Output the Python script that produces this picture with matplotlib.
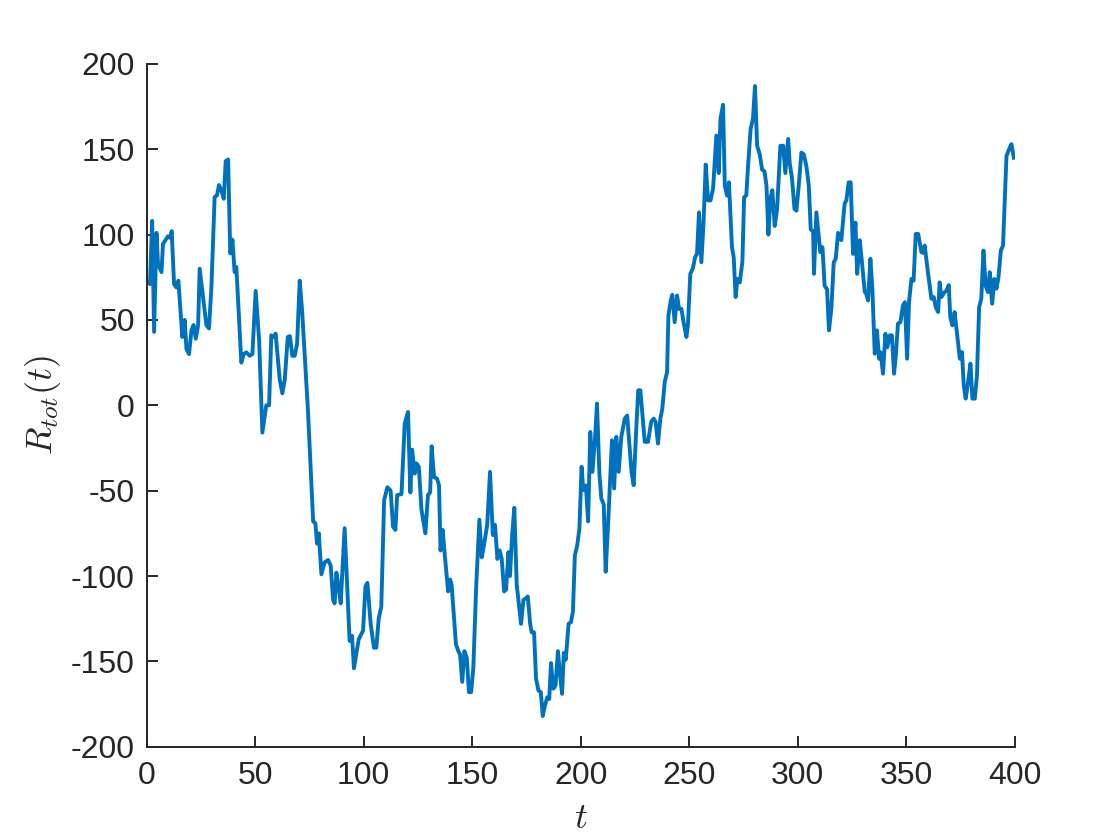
import matplotlib
matplotlib.use("Agg")
import matplotlib.pyplot as plt

t = [1, 1.5, 2.5, 3.4, 4.5, 5.2, 6.8, 7.5, 9.8, 10.9, 11.5, 12.6, 13.7, 14.6, 16.4, 17.5,
     18.3, 19.5, 20.6, 21.6, 22.6, 23.7, 24.4, 26, 27.5, 28.7, 29.8, 31.3, 32.4, 33.3,
     34.4, 35.5, 36.4, 37.5, 38.5, 39.5, 40.5, 41.3, 43.6, 44.7, 45.9, 47.5, 48.7, 50.2,
     51.8, 53.3, 55.1, 56.4, 57.4, 58.5, 59.4, 61.3, 62.5, 63.6, 65, 66, 67.1, 68.2, 69.3,
     70.5, 71.6, 74.3, 76.7, 77.7, 78.5, 79.3, 80.5, 82, 83.6, 84.8, 85.9, 86.6, 87.4,
     88.2, 89.4, 91.2, 93.5, 94.6, 95.5, 97.7, 99.7, 100.8, 101.7, 103.2, 104.7, 105.8,
     106.9, 108.1, 109.4, 110.9, 112.4, 113.5, 114.6, 115.4, 117.4, 118.9, 120.4, 121.5,
     122.3, 123.5, 124.3, 125.4, 126.6, 128.4, 129.6, 130.6, 131.3, 132.4, 133.8, 134.7,
     135.4, 136.4, 137.3, 138.9, 139.8, 140.5, 141.3, 142.5, 143.6, 144.4, 145.4, 146.4,
     147.5, 148.5, 149.5, 150.5, 151.8, 153.3, 154.4, 155.4, 156.9, 158.2, 159.5, 160.5,
     161.6, 162.6, 163.6, 164.7, 165.6, 166.7, 167.4, 168.4, 169.4, 170.5, 171.7, 172.5,
     173.6, 174.8, 175.6, 176.7, 177.4, 178.5, 179.4, 180.5, 181.6, 182.5, 183.5, 184.6,
     185.5, 186.3, 187.4, 188.4, 189.5, 190.4, 191.4, 192.2, 193.1, 194.4, 195.5, 196.4,
     197.3, 198.4, 199.4, 200.4, 201.2, 202.4, 203.4, 204.4, 205.4, 206.6, 207.5, 208.6,
     209.5, 210.6, 211.5, 212.6, 214.4, 215.4, 216.4, 217.5, 218.7, 220.3, 221.4, 223.4,
     224.4, 225.6, 226.5, 227.5, 229.5, 231, 232.5, 233.6, 234.5, 235.6, 236.7, 237.6,
     238.7, 239.8, 240.4, 241.5, 242.2, 243.3, 244.4, 245.3, 246.4, 247.4, 248.7, 249.4,
     250.5, 251.7, 252.7, 253.6, 254.5, 255.6, 256.6, 257.6, 258.7, 259.8, 261, 262.5,
     263.6, 264.4, 265.6, 266.4, 267.4, 268.3, 269.7, 270.5, 271.4, 272.2, 273.3, 274.5,
     275.3, 276.3, 277.1, 278.3, 279.4, 280.3, 281.3, 282.5, 283.6, 284.7, 285.6, 286.5,
     287.4, 288.3, 289.4, 290.5, 292, 293.3, 294.3, 295.6, 296.3, 297.4, 298.5, 299.4,
     300.6, 301.7, 302.8, 304, 305.1, 306, 307.1, 307.5, 308.6, 309.7, 310.4, 311.4,
     312.4, 313.5, 314.4, 315.5, 316.6, 317.5, 318.6, 320.1, 321.6, 322.4, 323.5, 324.4,
     325.5, 326.6, 327.4, 328.6, 329.6, 330.9, 331.6, 332.4, 333.5, 334.4, 335.5, 336.5,
     337.5, 338.2, 339.3, 340.4, 341.3, 342.4, 343.4, 344.4, 345.2, 346.2, 347.3, 348.5,
     349.4, 350.4, 351.3, 352.4, 353.4, 354.4, 355.5, 357, 357.7, 358.5, 360, 361.6,
     362.7, 363.6, 364.7, 365.4, 366.2, 367.7, 368.5, 369.6, 370.3, 371.3, 372.3, 374.7,
     375.7, 376.5, 377.4, 378.5, 379.6, 380.5, 381.6, 382.6, 383.6, 384.6, 385.6, 386.6,
     387.7, 388.5, 389.6, 390.6, 391.6, 392.5, 393.6, 394.6, 396.2, 397.4, 398.5, 399.6]

r_tot = [72, 71, 108, 43, 101, 83, 78, 94.5, 99, 98, 102, 71, 69, 73, 40, 50,
         33, 30, 44, 47, 39, 47, 80, 63, 47, 45, 69, 122, 123, 129,
         126, 121, 143, 144, 89, 97, 78, 81, 25, 30, 31, 29, 30, 67,
         38, -16, 0, 0, 41, 40, 42, 15, 7, 15, 40, 40.5, 29, 29, 36,
         73, 55.6, -3, -68, -69, -81, -75, -99, -92, -90.6, -94, -114, -116, -98,
         -104, -116, -72, -138, -135, -154, -137, -132, -106, -104, -128, -142, -142,
         -125, -118, -55.6, -48, -50, -71, -73, -52.6, -52, -10.7, -3.9, -51,
         -26, -40, -34, -36, -61, -75, -52.6, -51, -24, -42, -43, -47,
         -85, -73, -87, -109, -102, -105, -119, -140, -144, -146, -162, -144,
         -148, -168, -168, -154, -107, -67, -89, -82, -70, -39, -76, -70,
         -90, -85, -90, -109, -108, -86, -100, -76, -60, -105, -119, -128,
         -114, -113, -112, -128, -133, -133, -160, -167, -168, -182, -176, -171,
         -172, -151, -166, -164, -144, -157, -169, -145, -149, -128, -127, -121,
         -88, -82, -72, -36, -49.7, -47, -68, -15.6, -39, -19, 1, -40,
         -54.6, -58, -97.5, -70, -20.5, -48.7, -18.5, -39, -18.5, -7.8, -6, -39,
         -46.8, -13.6, 8.8, 8.8, -21.4, -21.4, -9.6, -7.8, -9.6, -22.4, -7.8, -2,
         13.6, 19.5, 52.6, 61.4, 64.7, 48.7, 64.3, 56.5, 56.5, 48.7, 40, 46.8,
         77, 80.3, 86.7, 88.7, 113, 83.8, 107, 141, 120, 120, 127, 158,
         136, 168, 176, 128.7, 122.8, 130.6, 92.6, 86.7, 63.4, 74, 72, 84,
         121.8, 123, 140, 161.8, 168, 187, 152, 147, 138, 137, 128.7, 100,
         121, 126, 105, 115, 152, 152, 136, 156, 142, 132.6, 115, 114,
         130.6, 148, 147, 140, 128.7, 103, 102, 77, 113, 99, 89.7, 92.6,
         70, 68, 43.9, 56.5, 83.8, 85.7, 101, 96.7, 118, 120, 130.6, 130.6,
         88.7, 107, 77, 96.7, 83.8, 66.3, 65.3, 61.4, 85.8, 68, 30.2, 43.9,
         27.3, 31, 18.5, 41.9, 34, 41, 41, 18.5, 29, 47.8, 48.7, 58.5,
         60.4, 27.3, 60.4, 74, 73, 100.4, 100.4, 89.7, 89.3, 93.6, 78, 62.4,
         63.4, 57.5, 54.6, 72, 63.4, 66.3, 67, 70.4, 51.7, 46.8, 54.6, 27.3,
         31.2, 11.7, 3.9, 13.6, 24.4, 3.9, 3.9, 17.5, 57.5, 62.4, 90.6, 70,
         66.3, 78, 59.5, 74, 68.3, 74.9, 90.6, 93.6, 146, 150, 153, 145]

x_ticks = [0, 50, 100, 150, 200, 250, 300, 350, 400]
y_ticks = [-200, -150, -100, -50, 0, 50, 100, 150, 200]

plt.rcParams['mathtext.fontset'] = 'cm'
plt.rcParams['font.family'] = ['Liberation Sans', 'DejaVu Sans']

axc = '#262626'
fig = plt.figure(figsize=(11.2, 8.4), dpi=100)
ax = fig.add_axes([0.131, 0.111, 0.775, 0.813])
ax.plot(t, r_tot, color='#0072BD', linewidth=2.8, solid_joinstyle='round')
ax.set_xlim(0, 400)
ax.set_ylim(-200, 200)
ax.set_xticks(x_ticks)
ax.set_yticks(y_ticks)
ax.set_xticklabels([str(v) for v in x_ticks])
ax.set_yticklabels([str(v) for v in y_ticks])
for s in ['top', 'right']:
    ax.spines[s].set_visible(False)
for s in ['left', 'bottom']:
    ax.spines[s].set_color(axc)
    ax.spines[s].set_linewidth(1.4)
ax.tick_params(direction='in', length=8, width=1.4, colors=axc, labelsize=23)
ax.tick_params(axis='x', pad=10)
ax.tick_params(axis='y', pad=8.5)
ax.set_xlabel('$t$', fontsize=26, color=axc)
ax.set_ylabel('$R_{tot}(t)$', fontsize=26, color=axc)
ax.xaxis.set_label_coords(0.5, -0.079)
ax.yaxis.set_label_coords(-0.096, 0.5)
fig.savefig('out.png', dpi=100)
